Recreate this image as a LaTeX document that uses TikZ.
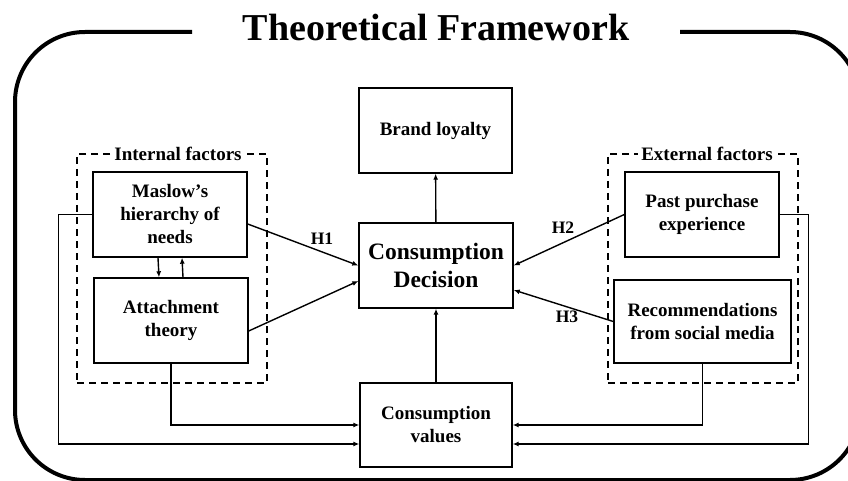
\documentclass[tikz,border=0pt]{standalone}
\usepackage{fontspec}
\setmainfont{Liberation Serif}
\usetikzlibrary{arrows.meta,calc}

\begin{document}
\begin{tikzpicture}[x=1pt,y=-1pt,line width=1.4pt,>={Latex[length=6pt,width=5pt]},
    box/.style={draw,minimum width=154pt,minimum height=85pt,align=center,inner sep=2pt,font=\fontsize{19}{23}\selectfont\bfseries},
    group/.style={draw,line width=1.3pt,dash pattern=on 7pt off 5pt,minimum width=190pt,minimum height=229pt},
    grouplabel/.style={fill=white,inner sep=3pt,font=\fontsize{19}{22}\selectfont\bfseries},
    hyp/.style={font=\fontsize{17.5}{20}\selectfont\bfseries}]
    \useasboundingbox (0,0) rectangle (848,481);

    \draw[line width=4pt,rounded corners=70pt] (192,32) -- (15,32) -- (15,480) -- (860,480) -- (860,32) -- (680,32);
    \draw node at (436,41)[name=title,anchor=base,font=\fontsize{38}{44}\selectfont\bfseries]{Theoretical Framework};

    \begin{scope}
    \draw node at (172,268.5)[name=internal,group]{};
    \draw node at (178,154)[name=internalT,grouplabel]{Internal factors};
    \draw node at (703,268.5)[name=external,group]{};
    \draw node at (707,154)[name=externalT,grouplabel]{External factors};
    \end{scope}

    \draw node at (435.5,130.5)[name=brand,box,minimum width=153pt]{Brand loyalty};
    \draw node at (436,265.5)[name=cd,box,font=\fontsize{23.5}{27.5}\selectfont\bfseries]{Consumption\\Decision};
    \draw node at (436,425)[name=cv,box,minimum width=152pt,minimum height=84pt]{Consumption\\values};
    \draw node at (170,214.5)[name=maslow,box]{Maslow’s\\hierarchy of\\needs};
    \draw node at (171,320.5)[name=attach,box]{Attachment\\theory};
    \draw node at (702,214.5)[name=past,box]{Past purchase\\experience};
    \draw node at (702.5,321.5)[name=recom,box,minimum width=177pt,minimum height=83pt]{Recommendations\\from social media};

    \draw[->](cd) -- (brand);
    \draw[->](cv) -- (cd);
    \draw[->]([xshift=-12pt]maslow.south) -- ([xshift=-12pt]attach.north);
    \draw[->]([xshift=12pt]attach.north) -- ([xshift=12pt]maslow.south);
    \draw[->]([yshift=-9.5pt]maslow.east) -- (cd.west);
    \draw[->]([yshift=-10.5pt]attach.east) -- ([yshift=-15.5pt]cd.west);
    \draw[->](past.west) -- (cd.east);
    \draw[->](recom.west) -- ([yshift=-24.5pt]cd.east);

    \draw node at (322,239)[name=h1,hyp]{H1};
    \draw node at (563,228)[name=h2,hyp]{H2};
    \draw node at (567,317)[name=h3,hyp]{H3};

    \draw[->](attach.south) |- (cv.west);
    \draw[->](maslow.west) -- ++(-34,0) |- ([yshift=-19pt]cv.west);
    \draw[->](recom.south) |- (cv.east);
    \draw[->](past.east) -- ++(29,0) |- ([yshift=-19pt]cv.east);
\end{tikzpicture}
\end{document}
